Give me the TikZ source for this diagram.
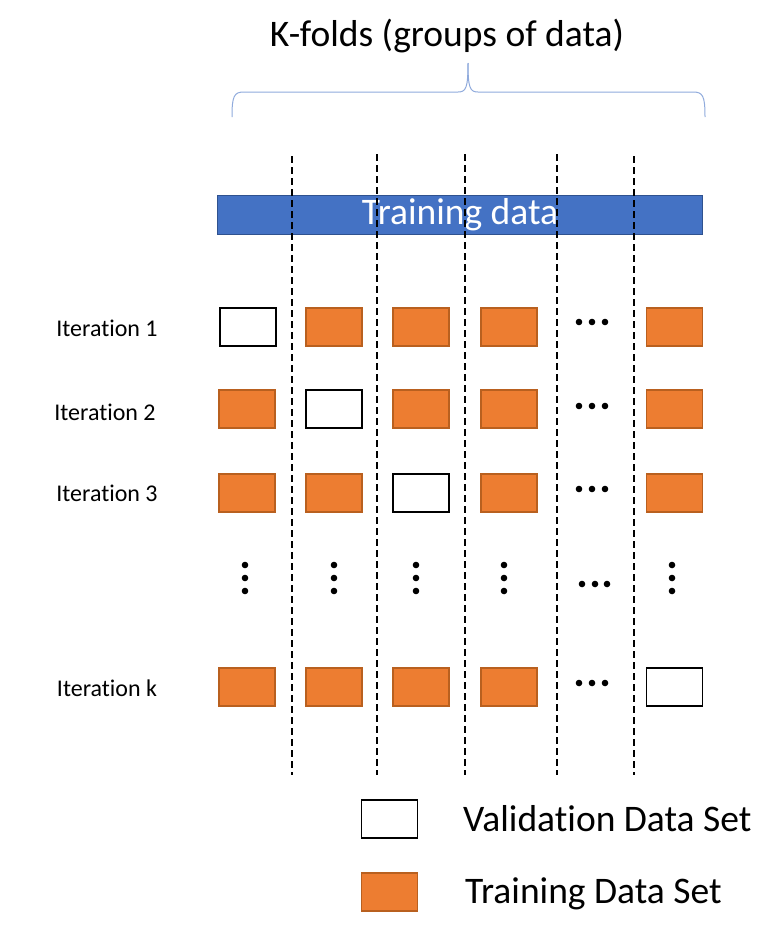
\documentclass[tikz,border=0pt]{standalone}
\usepackage{fontspec}
\setmainfont{Carlito}[Ligatures=CommonOff]

\definecolor{foldorange}{HTML}{ED7D31}
\definecolor{foldedge}{HTML}{B9601F}
\definecolor{barblue}{HTML}{4472C4}
\definecolor{baredge}{HTML}{2F528F}
\definecolor{braceblue}{HTML}{8FAADC}

\tikzset{
    trainbox/.style={draw=foldedge, fill=foldorange, line width=1.8pt, minimum width=56pt, minimum height=38pt, inner sep=0pt},
    valbox/.style={draw=black, fill=white, line width=1.8pt, minimum width=56pt, minimum height=38pt, inner sep=0pt},
    foldline/.style={dash pattern=on 7pt off 4pt, line width=2.2pt},
    iterlabel/.style={anchor=base, font=\fontsize{24}{28}\selectfont},
    bigtext/.style={font=\fontsize{37.5}{44}\selectfont}
}

\begin{document}
\begin{tikzpicture}[x=1pt, y=-1pt]
    \useasboundingbox (0,0) rectangle (777,937);

    % title and brace over the folds
    \node (title) [bigtext, anchor=base] at (447,46.7) {K-folds (groups of data)};
    \draw [braceblue, line width=1pt] (232,117) .. controls (232,96) and (234,92) .. (244,92) -- (458,92) .. controls (466,92) and (468,88) .. (468,63);
    \draw [braceblue, line width=1pt] (468,63) .. controls (468,88) and (470,92) .. (478,92) -- (693,92) .. controls (703,92) and (705,96) .. (705,117);

    % the whole data set
    \node (bar) [bigtext, draw=baredge, fill=barblue, text=white, line width=1.5pt, minimum width=485pt, minimum height=39pt, inner sep=0pt] at (460,215) {Training data};

    % fold borders
    \draw [foldline] (292,156) -- (292,775);
    \draw [foldline] (377,154) -- (377,775);
    \draw [foldline] (465,154) -- (465,775);
    \draw [foldline] (557,154) -- (557,775);
    \draw [foldline] (634,156) -- (634,775);

    % iteration 1
    \node (it1) [iterlabel] at (107,336.7) {Iteration 1};
    \node (r1c1) [valbox] at (248,327) {};
    \node (r1c2) [trainbox] at (334,327) {};
    \node (r1c3) [trainbox] at (421,327) {};
    \node (r1c4) [trainbox] at (509,327) {};
    \fill (579,322) circle (3.3pt) (592,322) circle (3.3pt) (605,322) circle (3.3pt);
    \node (r1c6) [trainbox] at (674.5,327) {};

    % iteration 2
    \node (it2) [iterlabel] at (105,420) {Iteration 2};
    \node (r2c1) [trainbox] at (247,409) {};
    \node (r2c2) [valbox] at (334,409) {};
    \node (r2c3) [trainbox] at (421,409) {};
    \node (r2c4) [trainbox] at (509,409) {};
    \fill (579,406) circle (3.3pt) (592,406) circle (3.3pt) (605,406) circle (3.3pt);
    \node (r2c6) [trainbox] at (674.5,409) {};

    % iteration 3
    \node (it3) [iterlabel] at (107,501.7) {Iteration 3};
    \node (r3c1) [trainbox] at (247,493) {};
    \node (r3c2) [trainbox] at (334,493) {};
    \node (r3c3) [valbox] at (421,493) {};
    \node (r3c4) [trainbox] at (509,493) {};
    \fill (579,489) circle (3.3pt) (592,489) circle (3.3pt) (605,489) circle (3.3pt);
    \node (r3c6) [trainbox] at (674.5,493) {};

    % vertical dots between the rows
    \fill (245,565) circle (3.3pt) (245,578) circle (3.3pt) (245,591) circle (3.3pt);
    \fill (334,565) circle (3.3pt) (334,578) circle (3.3pt) (334,591) circle (3.3pt);
    \fill (416,565) circle (3.3pt) (416,578) circle (3.3pt) (416,591) circle (3.3pt);
    \fill (504,565) circle (3.3pt) (504,578) circle (3.3pt) (504,591) circle (3.3pt);
    \fill (582,584) circle (3.3pt) (595,584) circle (3.3pt) (607,584) circle (3.3pt);
    \fill (672,565) circle (3.3pt) (672,578) circle (3.3pt) (672,591) circle (3.3pt);

    % iteration k
    \node (itk) [iterlabel] at (107,696) {Iteration k};
    \node (rkc1) [trainbox] at (247,687) {};
    \node (rkc2) [trainbox] at (334,687) {};
    \node (rkc3) [trainbox] at (421,687) {};
    \node (rkc4) [trainbox] at (509,687) {};
    \fill (579,683) circle (3.3pt) (592,683) circle (3.3pt) (605,683) circle (3.3pt);
    \node (rkc6) [valbox] at (674.5,687) {};

    % legend
    \node (legval) [valbox] at (389.5,819) {};
    \node (legtrain) [trainbox] at (389.5,892) {};
    \node (legvaltext) [bigtext, anchor=base west, inner sep=0pt] at (463,831.7) {Validation Data Set};
    \node (legtraintext) [bigtext, anchor=base west, inner sep=0pt] at (465,903.3) {Training Data Set};
\end{tikzpicture}
\end{document}
